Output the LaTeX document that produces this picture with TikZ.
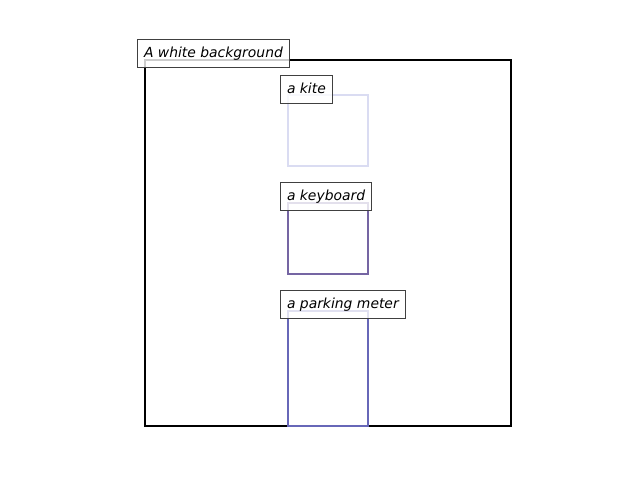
\documentclass[tikz,border=0pt]{standalone}
\usepackage{fontspec}
\setsansfont{DejaVu Sans}
\usetikzlibrary{positioning}
\definecolor{kitecol}{RGB}{218,220,242}
\definecolor{keybcol}{RGB}{117,101,163}
\definecolor{metercol}{RGB}{103,103,184}
\begin{document}
\begin{tikzpicture}[x=1pt,y=-1pt,
    box/.style={draw, rectangle, inner sep=0pt, line width=2.2pt, anchor=north west},
    lbl/.style={draw=black!75, fill=white, fill opacity=0.8, text opacity=1,
      line width=1pt, anchor=south west, inner xsep=6.5pt, inner ysep=0pt,
      text height=10.6pt, text depth=2.3pt,
      minimum height=28pt, font=\sffamily\itshape\fontsize{13.9}{16}\selectfont}]
  \useasboundingbox (0,0) rectangle (640,480);
  % regions
  \node[box, minimum width=366pt, minimum height=366pt] (bg) at (143.6,58.6) {};
  \node[box, draw=kitecol, minimum width=80pt, minimum height=71pt] (kite) at (286.6,93.6) {};
  \node[box, draw=keybcol, minimum width=80pt, minimum height=71pt] (keyb) at (286.6,201.6) {};
  \node[box, draw=metercol, minimum width=80pt, minimum height=115pt] (meter) at (286.6,309.6) {};
  % captions
  \node[lbl] (bgtxt) at (137,68) {A white background};
  \node[lbl] (kitetxt) at (280,104) {a kite};
  \node[lbl] (keybtxt) at (280,211) {a keyboard};
  \node[lbl] (metertxt) at (280,319) {a parking meter};
\end{tikzpicture}
\end{document}
